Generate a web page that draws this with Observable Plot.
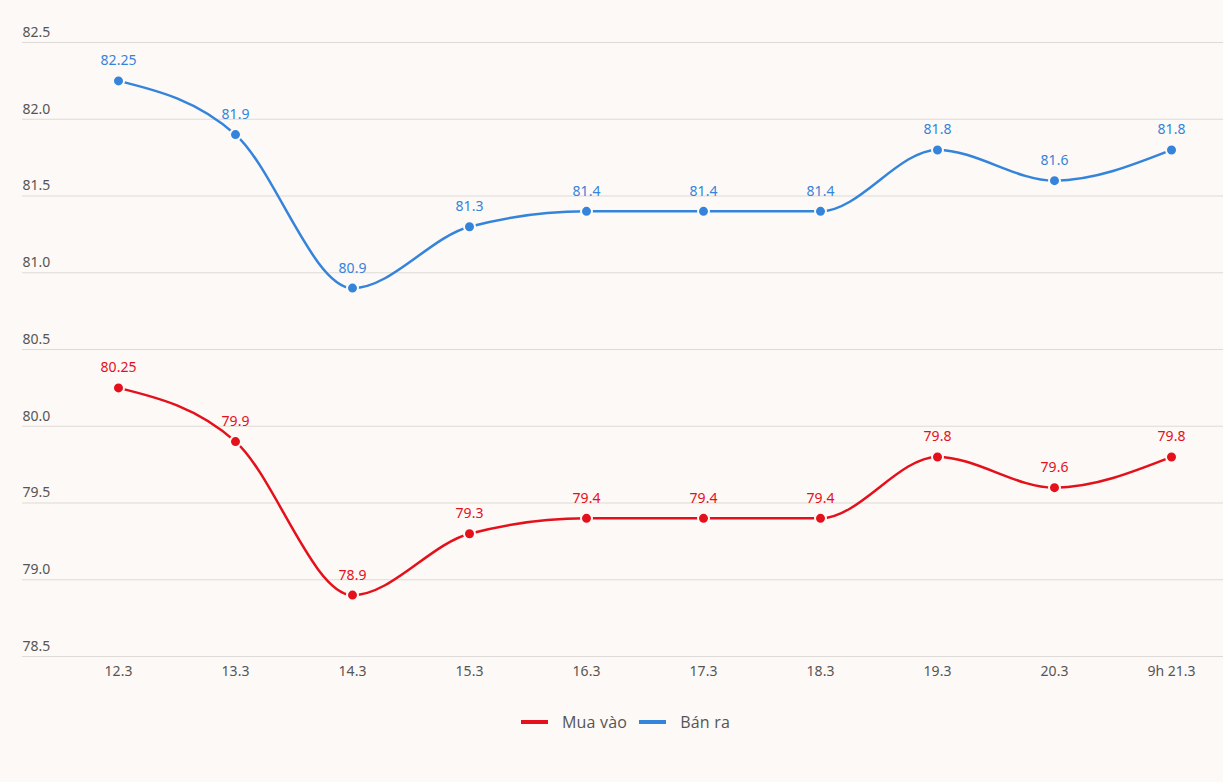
<!DOCTYPE html>
<html>
<head>
<meta charset="utf-8">
<script src="https://cdn.jsdelivr.net/npm/d3@7"></script>
<script src="https://cdn.jsdelivr.net/npm/@observablehq/plot@0.6"></script>
<style>
  html, body { margin: 0; padding: 0; background: #fdf9f6; }
  #chart { width: 1223px; }
  .legend { display: flex; justify-content: center; align-items: center; margin-top: 21px; padding-left: 28px; font-family: "Open Sans", sans-serif; font-size: 16px; letter-spacing: 0.2px; color: #555; }
  .legend .item { display: flex; align-items: center; margin: 0 6px; }
  .legend .sw { width: 27px; height: 4px; margin-right: 14px; }
</style>
</head>
<body>
<div id="chart"></div>
<script>
const dates = ["12.3", "13.3", "14.3", "15.3", "16.3", "17.3", "18.3", "19.3", "20.3", "9h 21.3"];
const muaVao = [80.25, 79.9, 78.9, 79.3, 79.4, 79.4, 79.4, 79.8, 79.6, 79.8];
const banRa = [82.25, 81.9, 80.9, 81.3, 81.4, 81.4, 81.4, 81.8, 81.6, 81.8];
const yTicks = [78.5, 79.0, 79.5, 80.0, 80.5, 81.0, 81.5, 82.0, 82.5];
const seriesNames = ["Mua vào", "Bán ra"];
const seriesColors = ["#e4101b", "#3584db"];

const rows = [];
dates.forEach((d, i) => {
  rows.push({date: d, value: muaVao[i], series: seriesNames[0]});
  rows.push({date: d, value: banRa[i], series: seriesNames[1]});
});

const chart = Plot.plot({
  width: 1223,
  height: 690,
  marginLeft: 22,
  marginRight: 0,
  marginTop: 42,
  marginBottom: 34,
  style: { background: "#fdf9f6", fontFamily: "'Noto Sans', sans-serif" },
  x: { type: "point", domain: dates, padding: 0, insetLeft: 96, insetRight: 52, label: null },
  y: { domain: [78.5, 82.5], label: null, axis: null },
  color: { domain: seriesNames, range: seriesColors },
  marks: [
    Plot.ruleY(yTicks, { stroke: "#dddad7", strokeWidth: 1 }),
    Plot.text(yTicks, { y: d => d, text: d => d.toFixed(1), frameAnchor: "left", textAnchor: "start", dy: -10, fill: "#555", fontSize: 14 }),
    Plot.axisX({ tickSize: 0, tickPadding: 10, fontSize: 14, color: "#555", label: null }),
    Plot.line(rows, { x: "date", y: "value", z: "series", stroke: "series", strokeWidth: 2.5, curve: "monotone-x" }),
    Plot.dot(rows, { x: "date", y: "value", fill: "series", r: 5.5, stroke: "#fdf9f6", strokeWidth: 2 }),
    Plot.text(rows, { x: "date", y: "value", text: d => String(d.value), fill: "series", dy: -20, fontSize: 14 })
  ]
});

document.getElementById("chart").appendChild(chart);

const legend = document.createElement("div");
legend.className = "legend";
seriesNames.forEach((name, i) => {
  const item = document.createElement("div");
  item.className = "item";
  const sw = document.createElement("span");
  sw.className = "sw";
  sw.style.background = seriesColors[i];
  const lab = document.createElement("span");
  lab.textContent = name;
  item.appendChild(sw);
  item.appendChild(lab);
  legend.appendChild(item);
});
document.getElementById("chart").appendChild(legend);
</script>
</body>
</html>
